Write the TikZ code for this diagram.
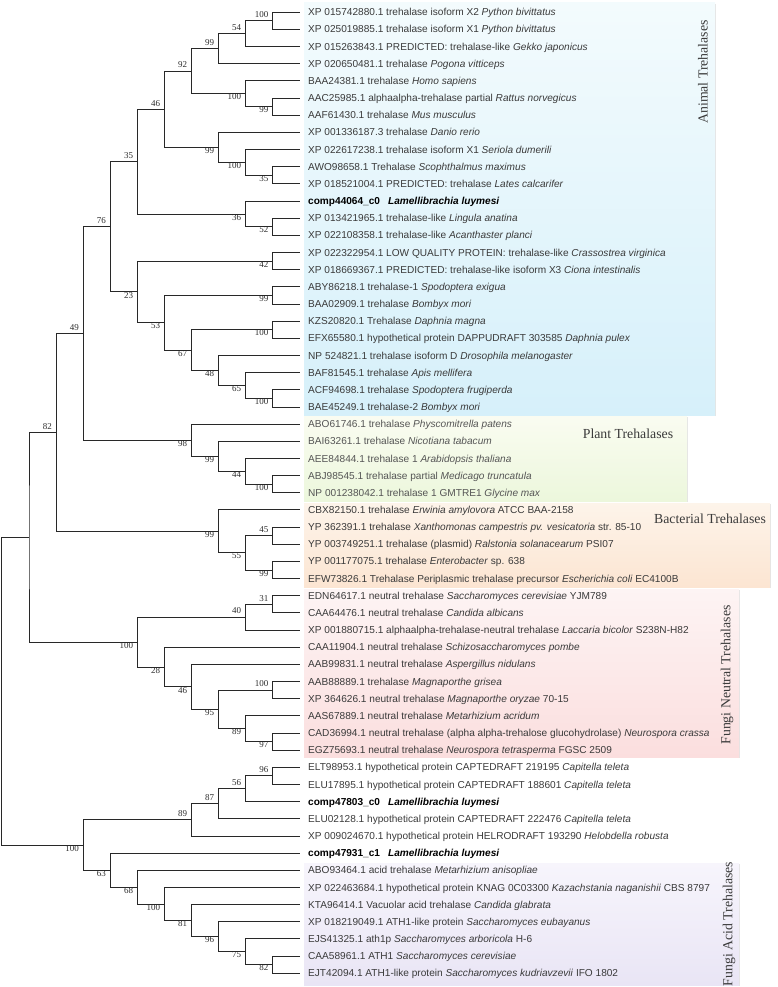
\documentclass[tikz,border=0pt]{standalone}
\usepackage{fontspec}
\setmainfont{Liberation Serif}
\setsansfont{Liberation Sans}
\usepackage{tikz}
\usetikzlibrary{calc,shadows}

\definecolor{leafgray}{RGB}{58,58,58}
\definecolor{plantgray}{RGB}{85,85,85}
\definecolor{linegray}{RGB}{40,40,40}
\definecolor{bsgray}{RGB}{45,45,45}
\definecolor{animtop}{RGB}{243,251,253}
\definecolor{animbot}{RGB}{214,240,250}
\definecolor{planttop}{RGB}{250,252,241}
\definecolor{plantbot}{RGB}{236,247,220}
\definecolor{bacttop}{RGB}{253,244,234}
\definecolor{bactbot}{RGB}{252,229,210}
\definecolor{neuttop}{RGB}{253,244,244}
\definecolor{neutbot}{RGB}{251,222,222}
\definecolor{acidtop}{RGB}{247,245,252}
\definecolor{acidbot}{RGB}{233,229,245}

\newcommand{\species}[1]{\textit{#1}}
\newcommand{\luymesi}[1]{\textbf{#1}\hspace{8pt}\textbf{\textit{Lamellibrachia luymesi}}}
% internal node at a level, halfway between its two children
\newcommand{\cladeat}[4]{%
  \path let \p1=(#3), \p2=(#4) in coordinate (#1) at ({(299.5-27.05*#2)*1pt}, {0.5*\y1+0.5*\y2});
  \draw[branch] (#3) -| (#1) |- (#4);
}
% same, with its bootstrap value
\newcommand{\clade}[6]{%
  \cladeat{#1}{#2}{#3}{#4}
  \node[#6] (#1-bs) at (#1) {#5};
}

\begin{document}
\begin{tikzpicture}[
    x=1pt, y=-1pt,
    leaf/.style={anchor=west, inner xsep=8.5pt, inner ysep=0pt, text height=7pt, text depth=0pt,
                 font=\sffamily\fontsize{10.1}{12}\selectfont, text=leafgray},
    ownleaf/.style={leaf, text=black},
    plantleaf/.style={leaf, text=plantgray},
    branch/.style={draw=linegray, line width=0.9pt},
    bsa/.style={anchor=south east, inner sep=0pt, xshift=-4pt, yshift=3pt,
                font=\fontsize{9}{10}\selectfont, text=bsgray},
    bsb/.style={bsa, anchor=north east, yshift=-3pt},
    cladelabel/.style={inner sep=0pt, font=\fontsize{13.8}{16}\selectfont, text=leafgray},
    boxshadow/.style={drop shadow={shadow xshift=1.2pt, shadow yshift=-1.2pt, fill=black!30, opacity=0.35}}
]
\useasboundingbox (0,0) rectangle (777,987);

% group backgrounds
\path[boxshadow, top color=animtop, bottom color=animbot] (304,3) rectangle (715,415);
\path[boxshadow, top color=planttop, bottom color=plantbot] (304,416) rectangle (687,501);
\path[boxshadow, top color=bacttop, bottom color=bactbot] (304,503) rectangle (770,587);
\path[boxshadow, top color=neuttop, bottom color=neutbot] (304,589) rectangle (739,757);
\path[boxshadow, top color=acidtop, bottom color=acidbot] (304,863) rectangle (739,985);

\node[cladelabel, rotate=90] (animal) at (703,72) {Animal Trehalases};
\node[cladelabel] (plant) at (628,434) {Plant Trehalases};
\node[cladelabel] (bacterial) at (710,519) {Bacterial Trehalases};
\node[cladelabel, rotate=90] (neutral) at (727,675) {Fungi Neutral Trehalases};
\node[cladelabel, rotate=90] (acid) at (729,924) {Fungi Acid Trehalases};

% sequences
\node[leaf] (l1) at (299.5,12.3) {XP 015742880.1 trehalase isoform X2 \species{Python bivittatus}};
\node[leaf] (l2) at (299.5,29.5) {XP 025019885.1 trehalase isoform X1 \species{Python bivittatus}};
\node[leaf] (l3) at (299.5,46.6) {XP 015263843.1 PREDICTED: trehalase-like \species{Gekko japonicus}};
\node[leaf] (l4) at (299.5,63.8) {XP 020650481.1 trehalase \species{Pogona vitticeps}};
\node[leaf] (l5) at (299.5,80.9) {BAA24381.1 trehalase \species{Homo sapiens}};
\node[leaf] (l6) at (299.5,98.1) {AAC25985.1 alphaalpha-trehalase partial \species{Rattus norvegicus}};
\node[leaf] (l7) at (299.5,115.3) {AAF61430.1 trehalase \species{Mus musculus}};
\node[leaf] (l8) at (299.5,132.4) {XP 001336187.3 trehalase \species{Danio rerio}};
\node[leaf] (l9) at (299.5,149.6) {XP 022617238.1 trehalase isoform X1 \species{Seriola dumerili}};
\node[leaf] (l10) at (299.5,166.7) {AWO98658.1 Trehalase \species{Scophthalmus maximus}};
\node[leaf] (l11) at (299.5,183.9) {XP 018521004.1 PREDICTED: trehalase \species{Lates calcarifer}};
\node[ownleaf] (l12) at (299.5,201.1) {\luymesi{comp44064\_c0}};
\node[leaf] (l13) at (299.5,218.2) {XP 013421965.1 trehalase-like \species{Lingula anatina}};
\node[leaf] (l14) at (299.5,235.4) {XP 022108358.1 trehalase-like \species{Acanthaster planci}};
\node[leaf] (l15) at (299.5,252.5) {XP 022322954.1 LOW QUALITY PROTEIN: trehalase-like \species{Crassostrea virginica}};
\node[leaf] (l16) at (299.5,269.7) {XP 018669367.1 PREDICTED: trehalase-like isoform X3 \species{Ciona intestinalis}};
\node[leaf] (l17) at (299.5,286.9) {ABY86218.1 trehalase-1 \species{Spodoptera exigua}};
\node[leaf] (l18) at (299.5,304.0) {BAA02909.1 trehalase \species{Bombyx mori}};
\node[leaf] (l19) at (299.5,321.2) {KZS20820.1 Trehalase \species{Daphnia magna}};
\node[leaf] (l20) at (299.5,338.3) {EFX65580.1 hypothetical protein DAPPUDRAFT 303585 \species{Daphnia pulex}};
\node[leaf] (l21) at (299.5,355.5) {NP 524821.1 trehalase isoform D \species{Drosophila melanogaster}};
\node[leaf] (l22) at (299.5,372.7) {BAF81545.1 trehalase \species{Apis mellifera}};
\node[leaf] (l23) at (299.5,389.8) {ACF94698.1 trehalase \species{Spodoptera frugiperda}};
\node[leaf] (l24) at (299.5,407.0) {BAE45249.1 trehalase-2 \species{Bombyx mori}};
\node[plantleaf] (l25) at (299.5,424.1) {ABO61746.1 trehalase \species{Physcomitrella patens}};
\node[plantleaf] (l26) at (299.5,441.3) {BAI63261.1 trehalase \species{Nicotiana tabacum}};
\node[plantleaf] (l27) at (299.5,458.5) {AEE84844.1 trehalase 1 \species{Arabidopsis thaliana}};
\node[plantleaf] (l28) at (299.5,475.6) {ABJ98545.1 trehalase partial \species{Medicago truncatula}};
\node[plantleaf] (l29) at (299.5,492.8) {NP 001238042.1 trehalase 1 GMTRE1 \species{Glycine max}};
\node[leaf] (l30) at (299.5,509.9) {CBX82150.1 trehalase \species{Erwinia amylovora} ATCC BAA-2158};
\node[leaf] (l31) at (299.5,527.1) {YP 362391.1 trehalase \species{Xanthomonas campestris pv. vesicatoria} str. 85-10};
\node[leaf] (l32) at (299.5,544.3) {YP 003749251.1 trehalase (plasmid) \species{Ralstonia solanacearum} PSI07};
\node[leaf] (l33) at (299.5,561.4) {YP 001177075.1 trehalase \species{Enterobacter} sp. 638};
\node[leaf] (l34) at (299.5,578.6) {EFW73826.1 Trehalase Periplasmic trehalase precursor \species{Escherichia coli} EC4100B};
\node[leaf] (l35) at (299.5,595.7) {EDN64617.1 neutral trehalase \species{Saccharomyces cerevisiae} YJM789};
\node[leaf] (l36) at (299.5,612.9) {CAA64476.1 neutral trehalase \species{Candida albicans}};
\node[leaf] (l37) at (299.5,630.1) {XP 001880715.1 alphaalpha-trehalase-neutral trehalase \species{Laccaria bicolor} S238N-H82};
\node[leaf] (l38) at (299.5,647.2) {CAA11904.1 neutral trehalase \species{Schizosaccharomyces pombe}};
\node[leaf] (l39) at (299.5,664.4) {AAB99831.1 neutral trehalase \species{Aspergillus nidulans}};
\node[leaf] (l40) at (299.5,681.5) {AAB88889.1 trehalase \species{Magnaporthe grisea}};
\node[leaf] (l41) at (299.5,698.7) {XP 364626.1 neutral trehalase \species{Magnaporthe oryzae} 70-15};
\node[leaf] (l42) at (299.5,715.9) {AAS67889.1 neutral trehalase \species{Metarhizium acridum}};
\node[leaf] (l43) at (299.5,733.0) {CAD36994.1 neutral trehalase (alpha alpha-trehalose glucohydrolase) \species{Neurospora crassa}};
\node[leaf] (l44) at (299.5,750.2) {EGZ75693.1 neutral trehalase \species{Neurospora tetrasperma} FGSC 2509};
\node[leaf] (l45) at (299.5,767.3) {ELT98953.1 hypothetical protein CAPTEDRAFT 219195 \species{Capitella teleta}};
\node[leaf] (l46) at (299.5,784.5) {ELU17895.1 hypothetical protein CAPTEDRAFT 188601 \species{Capitella teleta}};
\node[ownleaf] (l47) at (299.5,801.7) {\luymesi{comp47803\_c0}};
\node[leaf] (l48) at (299.5,818.8) {ELU02128.1 hypothetical protein CAPTEDRAFT 222476 \species{Capitella teleta}};
\node[leaf] (l49) at (299.5,836.0) {XP 009024670.1 hypothetical protein HELRODRAFT 193290 \species{Helobdella robusta}};
\node[ownleaf] (l50) at (299.5,853.1) {\luymesi{comp47931\_c1}};
\node[leaf] (l51) at (299.5,870.3) {ABO93464.1 acid trehalase \species{Metarhizium anisopliae}};
\node[leaf] (l52) at (299.5,887.5) {XP 022463684.1 hypothetical protein KNAG 0C03300 \species{Kazachstania naganishii} CBS 8797};
\node[leaf] (l53) at (299.5,904.6) {KTA96414.1 Vacuolar acid trehalase \species{Candida glabrata}};
\node[leaf] (l54) at (299.5,921.8) {XP 018219049.1 ATH1-like protein \species{Saccharomyces eubayanus}};
\node[leaf] (l55) at (299.5,938.9) {EJS41325.1 ath1p \species{Saccharomyces arboricola} H-6};
\node[leaf] (l56) at (299.5,956.1) {CAA58961.1 ATH1 \species{Saccharomyces cerevisiae}};
\node[leaf] (l57) at (299.5,973.3) {EJT42094.1 ATH1-like protein \species{Saccharomyces kudriavzevii} IFO 1802};

% animal trehalases
\clade{a1}{1}{l1}{l2}{100}{bsa}
\clade{a2}{2}{a1}{l3}{54}{bsa}
\clade{a3}{3}{a2}{l4}{99}{bsa}
\clade{a4}{1}{l6}{l7}{99}{bsb}
\clade{a5}{2}{l5}{a4}{100}{bsb}
\clade{a6}{4}{a3}{a5}{92}{bsa}
\clade{a7}{1}{l10}{l11}{35}{bsb}
\clade{a8}{2}{l9}{a7}{100}{bsb}
\clade{a9}{3}{l8}{a8}{99}{bsb}
\clade{a10}{5}{a6}{a9}{46}{bsa}
\clade{a11}{1}{l13}{l14}{52}{bsb}
\clade{a12}{2}{l12}{a11}{36}{bsb}
\clade{a13}{6}{a10}{a12}{35}{bsa}
\clade{a14}{1}{l15}{l16}{42}{bsb}
\clade{a15}{1}{l17}{l18}{99}{bsb}
\clade{a16}{1}{l19}{l20}{100}{bsb}
\clade{a17}{1}{l23}{l24}{100}{bsb}
\clade{a18}{2}{l22}{a17}{65}{bsb}
\clade{a19}{3}{l21}{a18}{48}{bsb}
\clade{a20}{4}{a16}{a19}{67}{bsb}
\clade{a21}{5}{a15}{a20}{53}{bsb}
\clade{a22}{6}{a14}{a21}{23}{bsb}
\clade{a23}{7}{a13}{a22}{76}{bsa}

% plant trehalases
\clade{p1}{1}{l28}{l29}{100}{bsb}
\clade{p2}{2}{l27}{p1}{44}{bsb}
\clade{p3}{3}{l26}{p2}{99}{bsb}
\clade{p4}{4}{l25}{p3}{98}{bsb}
\clade{ap}{8}{a23}{p4}{49}{bsa}

% bacterial trehalases
\clade{b1}{1}{l31}{l32}{45}{bsa}
\clade{b2}{1}{l33}{l34}{99}{bsb}
\clade{b3}{2}{b1}{b2}{55}{bsb}
\clade{b4}{3}{l30}{b3}{99}{bsb}
\clade{apb}{9}{ap}{b4}{82}{bsa}

% fungi neutral trehalases
\clade{f1}{1}{l35}{l36}{31}{bsa}
\clade{f2}{2}{f1}{l37}{40}{bsa}
\clade{f3}{1}{l40}{l41}{100}{bsa}
\clade{f4}{1}{l43}{l44}{97}{bsb}
\clade{f5}{2}{l42}{f4}{89}{bsb}
\clade{f6}{3}{f3}{f5}{95}{bsb}
\clade{f7}{4}{l39}{f6}{46}{bsb}
\clade{f8}{5}{l38}{f7}{28}{bsb}
\clade{f9}{6}{f2}{f8}{100}{bsb}
\cladeat{upper}{10}{apb}{f9}

% annelid sequences
\clade{h1}{1}{l45}{l46}{96}{bsa}
\clade{h2}{2}{h1}{l47}{56}{bsa}
\clade{h3}{3}{h2}{l48}{87}{bsa}
\clade{h4}{4}{h3}{l49}{89}{bsa}

% fungi acid trehalases
\clade{d1}{1}{l56}{l57}{82}{bsb}
\clade{d2}{2}{l55}{d1}{75}{bsb}
\clade{d3}{3}{l54}{d2}{96}{bsb}
\clade{d4}{4}{l53}{d3}{81}{bsb}
\clade{d5}{5}{l52}{d4}{100}{bsb}
\clade{d6}{6}{l51}{d5}{68}{bsb}
\clade{d7}{7}{l50}{d6}{63}{bsb}
\clade{lower}{8}{h4}{d7}{100}{bsb}

% root
\cladeat{root}{11}{upper}{lower}

\end{tikzpicture}
\end{document}
